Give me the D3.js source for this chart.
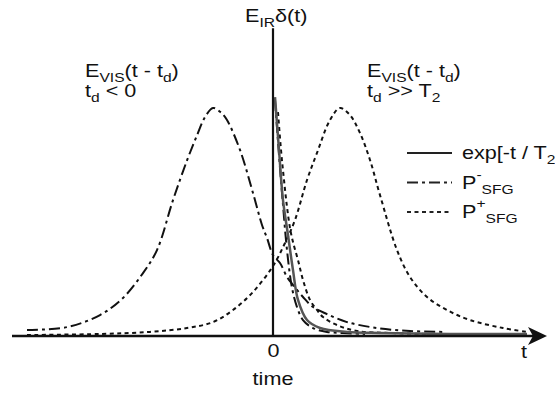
<!DOCTYPE html>
<html>
<head>
<meta charset="utf-8">
<script src="https://cdn.jsdelivr.net/npm/d3@7"></script>
<style>
body { margin: 0; background: #fff; }
text { font-family: "Liberation Sans", Arial, sans-serif; fill: #111; }
</style>
</head>
<body>
<div id="chart"></div>
<script>
// time in arbitrary units (0 = IR pulse), amplitude normalised to the VIS peak

// E_VIS(t - td), td < 0  (dash-dot, continues as slow tail)
var evisNegT = [-24.6, -20.6, -17.3, -15.0, -13.0, -11.6, -10.0, -8.6, -7.6, -6.8, -6.0, -5.2, -4.6, -3.3, -2.0, -1.1, -0.6, 0, 0.7, 1.4, 2.0, 3.0, 4.0, 5.4, 7.4, 10.4, 13.7, 17.0];
var evisNegA = [0.026, 0.039, 0.092, 0.167, 0.276, 0.377, 0.596, 0.77, 0.88, 0.96, 1.0, 0.98, 0.947, 0.816, 0.627, 0.487, 0.43, 0.355, 0.32, 0.259, 0.224, 0.171, 0.127, 0.096, 0.061, 0.035, 0.022, 0.018];

// E_VIS(t - td), td >> T2  (dotted)
var evisPosT = [-24.6, -17.3, -12.3, -8.6, -6.0, -4.0, -2.0, 0, 1.2, 2.2, 3.4, 4.4, 5.7, 6.7, 7.7, 8.7, 9.7, 10.7, 12.4, 13.7, 15.4, 17.4, 19.7, 23.0, 25.4];
var evisPosA = [0.004, 0.009, 0.018, 0.035, 0.061, 0.114, 0.193, 0.307, 0.408, 0.509, 0.684, 0.803, 0.947, 1.0, 0.969, 0.89, 0.772, 0.618, 0.377, 0.259, 0.171, 0.114, 0.07, 0.035, 0.018];

// exp[-t / T2]
var expT = [0.2, 0.6, 1.0, 1.5, 2.0, 2.5, 3.4, 4.7, 7.4, 10.7, 17.7, 25.4];
var expA = [1.048, 0.816, 0.596, 0.443, 0.289, 0.158, 0.07, 0.035, 0.018, 0.013, 0.009, 0.009];

// P-_SFG
var pMinusT = [0.2, 0.6, 1.0, 1.4, 1.9, 2.4, 3.0, 4.0, 5.4, 7.0, 9.2];
var pMinusA = [1.035, 0.794, 0.575, 0.377, 0.211, 0.127, 0.07, 0.035, 0.018, 0.013, 0.009];

// P+_SFG
var pPlusT = [0.5, 0.8, 1.1, 1.4, 1.7, 2.0, 2.5, 3.0, 3.7, 4.4, 5.0, 6.4, 8.4, 11.7, 15.7];
var pPlusA = [0.982, 0.816, 0.684, 0.566, 0.474, 0.412, 0.333, 0.246, 0.158, 0.114, 0.083, 0.048, 0.022, 0.013, 0.009];

// height of the IR delta spike
var irSpike = 1.35;

var width = 555, height = 394;
var fs = 18, fsSmall = 13, sx = 1.2;

var svg = d3.select("#chart")
    .append("svg")
    .attr("width", width)
    .attr("height", height);

// x: time, y: field amplitude
var x = d3.scaleLinear().domain([-26.1, 27.4]).range([12, 547]);
var y = d3.scaleLinear().domain([0, 1]).range([336, 108]);

function zip(ts, as) {
    return ts.map(function (t, i) { return [t, as[i]]; });
}

var line = d3.line()
    .x(function (d) { return x(d[0]); })
    .y(function (d) { return y(d[1]); })
    .curve(d3.curveCatmullRom.alpha(0.5));

var styles = {
    dashdot: {stroke: "#111", width: 2, dash: "11,4,3,4"},
    dotted: {stroke: "#111", width: 2, dash: "4,3.5"},
    solid: {stroke: "#555", width: 2.5, dash: null}
};

var series = [
    {data: zip(evisNegT, evisNegA), style: styles.dashdot},
    {data: zip(evisPosT, evisPosA), style: styles.dotted},
    {data: zip(pPlusT, pPlusA), style: styles.dotted},
    {data: zip(pMinusT, pMinusA), style: styles.dashdot},
    {data: zip(expT, expA), style: styles.solid}
];

svg.append("g")
    .selectAll("path")
    .data(series)
    .join("path")
    .attr("fill", "none")
    .attr("stroke", function (d) { return d.style.stroke; })
    .attr("stroke-width", function (d) { return d.style.width; })
    .attr("stroke-dasharray", function (d) { return d.style.dash; })
    .attr("d", function (d) { return line(d.data); });

// IR delta pulse at t = 0
svg.append("line")
    .attr("x1", x(0)).attr("x2", x(0))
    .attr("y1", y(0)).attr("y2", y(irSpike))
    .attr("stroke", "#111")
    .attr("stroke-width", 2.2);

// time axis with arrow
svg.append("line")
    .attr("x1", x.range()[0]).attr("x2", x.range()[1] - 10)
    .attr("y1", y(0)).attr("y2", y(0))
    .attr("stroke", "#111")
    .attr("stroke-width", 2.5);

svg.append("path")
    .attr("transform", "translate(" + x.range()[1] + "," + y(0) + ")")
    .attr("d", "M0,0L-19,-9L-14,0L-19,9Z")
    .attr("fill", "#111");

var xAxis = svg.append("g")
    .attr("transform", "translate(0," + y(0) + ")")
    .call(d3.axisBottom(x).tickValues([0]).tickSize(0).tickPadding(8).tickFormat(d3.format("d")));
xAxis.select(".domain").remove();
xAxis.selectAll("text")
    .attr("font-size", fs)
    .attr("transform", "scale(" + sx + ",1)")
    .style("font-family", "'Liberation Sans', Arial, sans-serif")
    .attr("fill", "#111");

// rich text helper: parts = [text, kind] with kind "", "sub" or "sup"
function label(px, py, parts, anchor) {
    var g = svg.append("g").attr("transform", "translate(" + px + "," + py + ") scale(" + sx + ",1)");
    var t = g.append("text").attr("font-size", fs).attr("text-anchor", anchor || "start");
    var shift = 0;
    parts.forEach(function (p) {
        var want = p[1] === "sub" ? 5 : (p[1] === "sup" ? -10 : 0);
        t.append("tspan")
            .attr("dy", want - shift)
            .attr("font-size", p[1] ? fsSmall : fs)
            .text(p[0]);
        shift = want;
    });
    return g;
}

label(245, 22, [["E", ""], ["IR", "sub"], ["δ(t)", ""]]);
label(85, 77, [["E", ""], ["VIS", "sub"], ["(t - t", ""], ["d", "sub"], [")", ""]]);
label(85, 97, [["t", ""], ["d", "sub"], [" < 0", ""]]);
label(367, 77, [["E", ""], ["VIS", "sub"], ["(t - t", ""], ["d", "sub"], [")", ""]]);
label(367, 97, [["t", ""], ["d", "sub"], [" >> T", ""], ["2", "sub"]]);

label(x(25.1), 358, [["t", ""]], "middle");
label(x(0), 385, [["time", ""]], "middle");

// legend
var legendItems = [
    {style: styles.solid, parts: [["exp[-t / T", ""], ["2", "sub"], ["]", ""]]},
    {style: styles.dashdot, parts: [["P", ""], ["-", "sup"], ["SFG", "sub"]]},
    {style: styles.dotted, parts: [["P", ""], ["+", "sup"], ["SFG", "sub"]]}
];

legendItems.forEach(function (item, i) {
    var ly = 153 + i * 29.5;
    svg.append("line")
        .attr("x1", 407).attr("x2", 452)
        .attr("y1", ly).attr("y2", ly)
        .attr("stroke", "#222")
        .attr("stroke-width", 2)
        .attr("stroke-dasharray", item.style.dash);
    var parts = item.parts;
    if (i > 0) {
        // superscript then subscript, subscript sits below the baseline
        parts = [["P", ""], [item.parts[1][0], "sup"], ["SFG", "sub"]];
    }
    label(462, ly + 6, parts);
});
</script>
</body>
</html>
